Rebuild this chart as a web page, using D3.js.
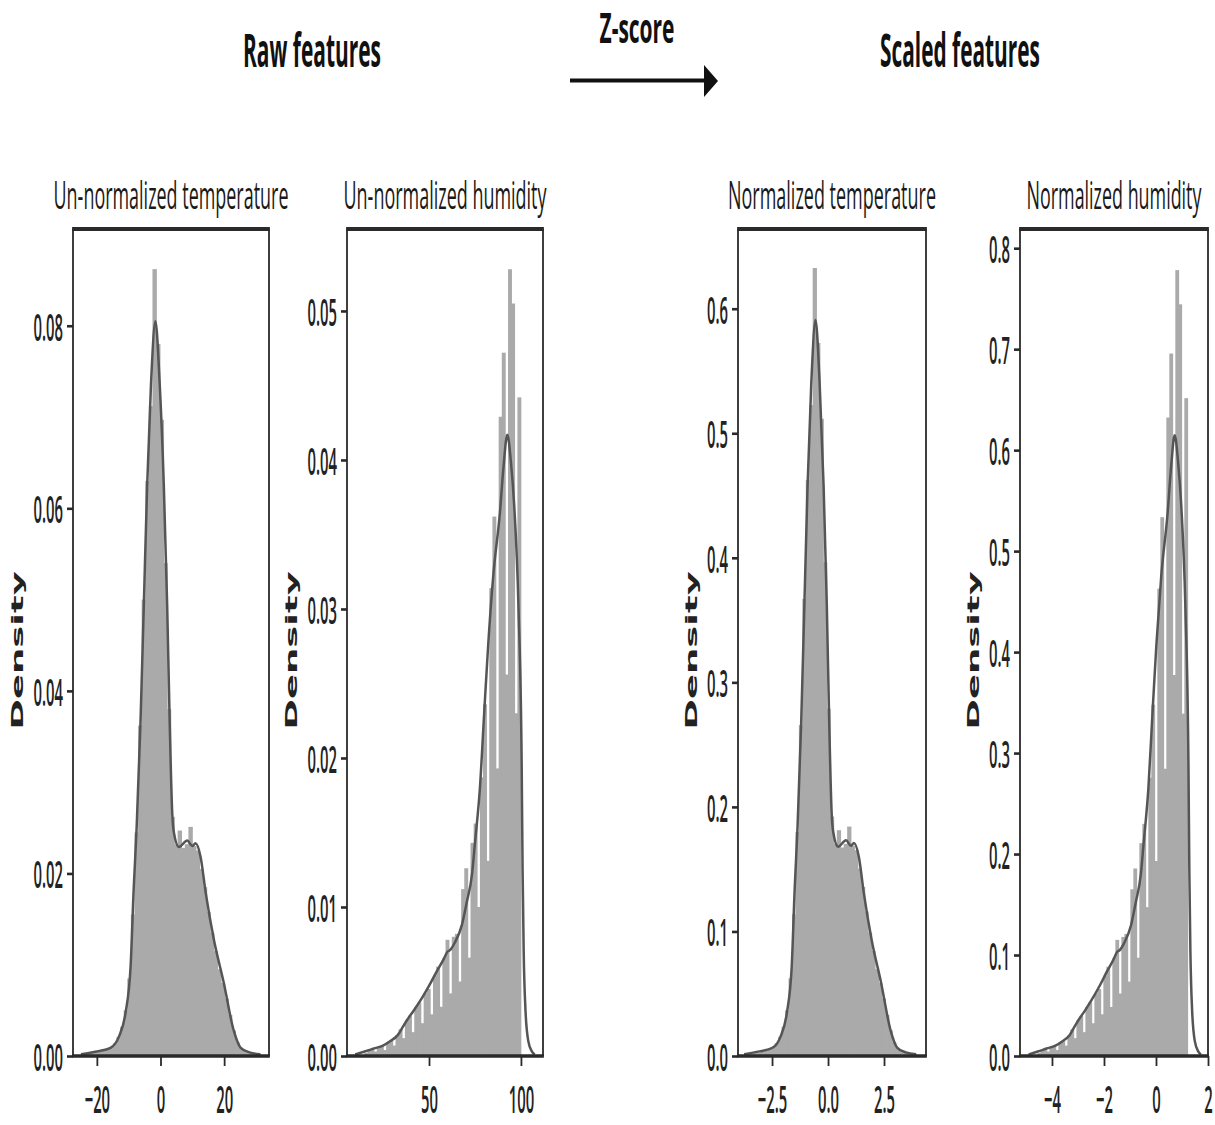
<!DOCTYPE html>
<html><head><meta charset="utf-8">
<script src="https://cdn.jsdelivr.net/npm/d3@7"></script>
<style>body{margin:0;background:#fff}svg{display:block}</style>
</head><body>
<svg id="c" width="1215" height="1125"></svg>
<script>
// ---------- DATA ----------
const mainTitles = ["Raw features", "Z-score", "Scaled features"];
const panelTitles = ["Un-normalized temperature", "Un-normalized humidity", "Normalized temperature", "Normalized humidity"];
const yLabel = "Density";

// histogram densities (bin start, bin width, heights)
const tempBinStart = -25.0, tempBinWidth = 1.13;
const tempHist = [0.0002,0.0003,0.0003,0.0004,0.0004,0.0005,0.0006,0.0008,0.0010,0.0014,
  0.0021,0.0032,0.0050,0.0085,0.0155,0.0245,0.0362,0.0500,0.0630,0.0712,
  0.0862,0.0780,0.0697,0.0540,0.0380,0.0262,0.0232,0.0247,0.0228,0.0232,
  0.0251,0.0230,0.0225,0.0205,0.0185,0.0158,0.0135,0.0115,0.0095,0.0080,
  0.0063,0.0045,0.0028,0.0015,0.0009,0.0006,0.0004,0.0003,0.0002,0.0002];
const tempKde = [[-25,0.0002],[-20,0.0005],[-15.7,0.0009],[-13.1,0.0021],[-11,0.0047],[-9.4,0.0098],
  [-8.4,0.0185],[-7.5,0.0250],[-6.3,0.0364],[-5.25,0.0493],[-4.2,0.0624],[-3,0.0735],[-1.6,0.0805],
  [-0.3,0.0740],[1.05,0.0624],[2.1,0.0493],[2.9,0.0364],[3.7,0.0265],[4.2,0.0245],[5.8,0.0229],
  [8.4,0.0236],[10,0.0230],[11,0.0233],[12.6,0.0218],[14.2,0.0179],[16.8,0.0127],[19.9,0.0080],
  [23,0.0028],[25.2,0.0009],[28,0.0004],[31.4,0.0002]];

const humBinStart = 15.0, humBinWidth = 1.7;
const humHist = [0.0002,0.0004,0.0004,0.0003,0.0006,0.0007,0.0004,0.0009,0.0010,0.0007,
  0.0014,0.0018,0.0012,0.0024,0.0027,0.0016,0.0033,0.0036,0.0022,0.0042,
  0.0045,0.0028,0.0054,0.0060,0.0033,0.0066,0.0078,0.0042,0.0080,0.0082,
  0.0050,0.0112,0.0126,0.0066,0.0143,0.0156,0.0100,0.0187,0.0236,0.0131,
  0.0314,0.0362,0.0193,0.0429,0.0472,0.0256,0.0528,0.0505,0.0230,0.0442];
const humKde = [[9.8,0.0001],[15,0.0003],[20,0.0005],[25,0.0007],[29,0.0010],[33,0.0014],[36,0.0020],
  [38,0.0024],[42,0.0031],[46.7,0.0040],[50,0.0047],[54.3,0.0057],[58,0.0065],[60,0.0070],[61.4,0.0071],
  [64,0.0076],[67.9,0.0088],[70.5,0.0103],[73.4,0.0122],[75,0.0143],[77.7,0.0180],[80,0.0230],
  [82.2,0.0276],[85,0.0323],[88.6,0.0365],[90.5,0.0395],[92.6,0.0417],[94.6,0.0398],[96.3,0.0370],
  [98.7,0.0300],[100.4,0.0196],[100.9,0.0125],[101.5,0.0070],[102.5,0.0030],[104,0.0010],[106,0.0003],[107.5,0.0001]];

const zTempBinStart = -3.747, zTempBinWidth = 0.154;
const zTempHist = [0.0015,0.0022,0.0022,0.0029,0.0029,0.0037,0.0044,0.0059,0.0073,0.0103,
  0.0154,0.0235,0.0367,0.0624,0.1138,0.1798,0.2657,0.3670,0.4624,0.5226,
  0.6327,0.5725,0.5116,0.3964,0.2789,0.1923,0.1703,0.1813,0.1674,0.1703,
  0.1842,0.1688,0.1652,0.1505,0.1358,0.1160,0.0991,0.0844,0.0697,0.0587,
  0.0462,0.0330,0.0206,0.0110,0.0066,0.0044,0.0029,0.0022,0.0015,0.0015];
const zTempKde = [[-3.747,0.0015],[-3.065,0.0037],[-2.480,0.0066],[-2.125,0.0154],[-1.839,0.0345],
  [-1.621,0.0719],[-1.485,0.1358],[-1.362,0.1835],[-1.199,0.2672],[-1.056,0.3619],[-0.913,0.4580],
  [-0.749,0.5395],[-0.559,0.5909],[-0.381,0.5432],[-0.198,0.4580],[-0.054,0.3619],[0.054,0.2672],
  [0.163,0.1945],[0.232,0.1798],[0.450,0.1681],[0.804,0.1732],[1.022,0.1688],[1.158,0.1710],
  [1.376,0.1600],[1.594,0.1314],[1.948,0.0932],[2.371,0.0587],[2.793,0.0206],[3.093,0.0066],
  [3.474,0.0029],[3.937,0.0015]];

const zHumBinStart = -4.545, zHumBinWidth = 0.1153;
const zHumHist = [0.0029,0.0059,0.0059,0.0044,0.0088,0.0103,0.0059,0.0133,0.0147,0.0103,
  0.0206,0.0265,0.0177,0.0354,0.0398,0.0236,0.0486,0.0531,0.0324,0.0619,
  0.0663,0.0413,0.0796,0.0884,0.0486,0.0973,0.1150,0.0619,0.1179,0.1209,
  0.0737,0.1651,0.1857,0.0973,0.2108,0.2299,0.1474,0.2756,0.3479,0.1931,
  0.4628,0.5336,0.2845,0.6323,0.6957,0.3773,0.7783,0.7444,0.3390,0.6515];
const zHumKde = [[-4.898,0.0015],[-4.545,0.0044],[-4.206,0.0074],[-3.867,0.0103],[-3.596,0.0147],
  [-3.324,0.0206],[-3.121,0.0295],[-2.985,0.0354],[-2.714,0.0457],[-2.395,0.0590],[-2.171,0.0693],
  [-1.879,0.0840],[-1.628,0.0958],[-1.493,0.1032],[-1.398,0.1047],[-1.221,0.1120],[-0.957,0.1297],
  [-0.780,0.1518],[-0.583,0.1798],[-0.475,0.2108],[-0.292,0.2653],[-0.136,0.3390],[0.014,0.4068],
  [0.204,0.4761],[0.448,0.5380],[0.577,0.5822],[0.719,0.6147],[0.855,0.5867],[0.970,0.5454],
  [1.133,0.4422],[1.248,0.2889],[1.282,0.1843],[1.323,0.1032],[1.391,0.0442],[1.493,0.0147],
  [1.628,0.0044],[1.730,0.0015]];

// tick values
const tempXTicks = [-20, 0, 20];
const tempYTicks = [0, 0.02, 0.04, 0.06, 0.08];
const humXTicks = [50, 100];
const humYTicks = [0, 0.01, 0.02, 0.03, 0.04, 0.05];
const zTempXTicks = [-2.5, 0, 2.5];
const zTempYTicks = [0, 0.1, 0.2, 0.3, 0.4, 0.5, 0.6];
const zHumXTicks = [-4, -2, 0, 2];
const zHumYTicks = [0, 0.1, 0.2, 0.3, 0.4, 0.5, 0.6, 0.7, 0.8];

// ---------- LAYOUT ----------
const TOP = 229, BOTTOM = 1056;
const panels = [
  {title: panelTitles[0], titleW: 235, left: 73, right: 269, xDom: [-27.5, 34.1], yDom: [0, 0.0906],
   xTicks: tempXTicks, yTicks: tempYTicks, xFmt: "d", yFmt: ".2f",
   hist: tempHist, b0: tempBinStart, bw: tempBinWidth, kde: tempKde, densDx: 50},
  {title: panelTitles[1], titleW: 203, left: 347, right: 543, xDom: [5.4, 112], yDom: [0, 0.0555],
   xTicks: humXTicks, yTicks: humYTicks, xFmt: "d", yFmt: ".2f",
   hist: humHist, b0: humBinStart, bw: humBinWidth, kde: humKde, densDx: 50},
  {title: panelTitles[2], titleW: 208, left: 738, right: 926, xDom: [-4.02, 4.375], yDom: [0, 0.664],
   xTicks: zTempXTicks, yTicks: zTempYTicks, xFmt: ".1f", yFmt: ".1f",
   hist: zTempHist, b0: zTempBinStart, bw: zTempBinWidth, kde: zTempKde, densDx: 41},
  {title: panelTitles[3], titleW: 175, left: 1020, right: 1208, xDom: [-5.23, 2.0], yDom: [0, 0.819],
   xTicks: zHumXTicks, yTicks: zHumYTicks, xFmt: "d", yFmt: ".1f",
   hist: zHumHist, b0: zHumBinStart, bw: zHumBinWidth, kde: zHumKde, densDx: 41}
];

const TICK_FONT = "'Open Sans', 'DejaVu Sans', sans-serif";
const TITLE_FONT = "'Open Sans', 'DejaVu Sans', sans-serif";
const TICK_FS = 38, TICK_SX = 0.39;
const BAR_COLOR = "#aaaaaa", KDE_COLOR = "#555555", AX_COLOR = "#2a2a2a";

const svg = d3.select("#c");

// text condensed horizontally to a target width (via transform, so its box is exact)
function fitText(parent, txt, cx, by, w, fs, weight, color) {
  const t = parent.append("text").attr("x", 0).attr("y", 0).attr("text-anchor", "middle")
    .style("font-family", TITLE_FONT).style("font-weight", weight).style("font-size", fs + "px")
    .attr("fill", color).text(txt);
  const natural = t.node().getComputedTextLength() || w;
  t.attr("transform", `translate(${cx},${by}) scale(${w / natural},1)`);
  return t;
}
fitText(svg, mainTitles[0], 312, 67, 138, 47, 700, "#111");
fitText(svg, mainTitles[1], 637, 43, 75, 42, 700, "#111");
fitText(svg, mainTitles[2], 960, 67, 160, 47, 700, "#111");

// arrow
svg.append("line").attr("x1", 570).attr("x2", 707).attr("y1", 80.5).attr("y2", 80.5)
  .attr("stroke", "#111").attr("stroke-width", 4);
svg.append("path").attr("d", "M704,65 L718,81 L704,97 Z").attr("fill", "#111");

panels.forEach(p => {
  const x = d3.scaleLinear().domain(p.xDom).range([p.left, p.right]);
  const y = d3.scaleLinear().domain(p.yDom).range([BOTTOM, TOP]);
  const g = svg.append("g");

  // bars (slight overlap to avoid anti-aliasing seams)
  g.selectAll("rect.bar").data(p.hist).join("rect").attr("class", "bar")
    .attr("x", (d, i) => x(p.b0 + i * p.bw) - 0.4)
    .attr("width", (d, i) => x(p.b0 + (i + 1) * p.bw) - x(p.b0 + i * p.bw) + 0.8)
    .attr("y", d => y(d))
    .attr("height", d => y(0) - y(d))
    .attr("fill", BAR_COLOR);

  // kde
  g.append("path").datum(p.kde)
    .attr("d", d3.line().x(d => x(d[0])).y(d => y(d[1])).curve(d3.curveMonotoneX))
    .attr("fill", "none").attr("stroke", KDE_COLOR).attr("stroke-width", 2.5);

  // y axis
  const ya = g.append("g").attr("transform", `translate(${p.left},0)`)
    .call(d3.axisLeft(y).tickValues(p.yTicks).tickFormat(d3.format(p.yFmt)).tickSize(6).tickPadding(0));
  ya.select(".domain").remove();
  ya.selectAll(".tick line").attr("stroke", AX_COLOR).attr("stroke-width", 2.6);
  ya.selectAll(".tick text")
    .attr("x", -10 / TICK_SX).attr("dy", "0.38em").attr("transform", `scale(${TICK_SX},1)`)
    .style("font-family", TICK_FONT).style("font-weight", "600").style("font-size", TICK_FS + "px").attr("fill", "#222");

  // x axis
  const xa = g.append("g").attr("transform", `translate(0,${BOTTOM})`)
    .call(d3.axisBottom(x).tickValues(p.xTicks).tickFormat(d3.format(p.xFmt)).tickSize(10).tickPadding(0));
  xa.select(".domain").remove();
  xa.selectAll(".tick line").attr("stroke", AX_COLOR).attr("stroke-width", 1.8);
  xa.selectAll(".tick text")
    .attr("y", 57).attr("dy", 0).attr("transform", `scale(${TICK_SX},1)`)
    .style("font-family", TICK_FONT).style("font-weight", "600").style("font-size", TICK_FS + "px").attr("fill", "#222");

  // spines
  g.append("line").attr("x1", p.left).attr("x2", p.left).attr("y1", TOP).attr("y2", BOTTOM)
    .attr("stroke", AX_COLOR).attr("stroke-width", 1.8);
  g.append("line").attr("x1", p.right).attr("x2", p.right).attr("y1", TOP).attr("y2", BOTTOM)
    .attr("stroke", AX_COLOR).attr("stroke-width", 1.8);
  g.append("line").attr("x1", p.left - 0.9).attr("x2", p.right + 0.9).attr("y1", TOP).attr("y2", TOP)
    .attr("stroke", AX_COLOR).attr("stroke-width", 4);
  g.append("line").attr("x1", p.left - 0.9).attr("x2", p.right + 0.9).attr("y1", BOTTOM).attr("y2", BOTTOM)
    .attr("stroke", AX_COLOR).attr("stroke-width", 3.5);

  // subplot title
  fitText(g, p.title, (p.left + p.right) / 2, 209, p.titleW, 38, 400, "#1a1a1a");

  // y label
  g.append("text")
    .attr("transform", `translate(${p.left - p.densDx},${(TOP + BOTTOM) / 2 + 8}) scale(0.42,1) rotate(-90)`)
    .attr("text-anchor", "middle")
    .style("font-family", "'DejaVu Sans', sans-serif").style("font-size", "37px").style("font-weight", "bold").attr("fill", "#222")
    .text(yLabel);
});
</script>
</body></html>
